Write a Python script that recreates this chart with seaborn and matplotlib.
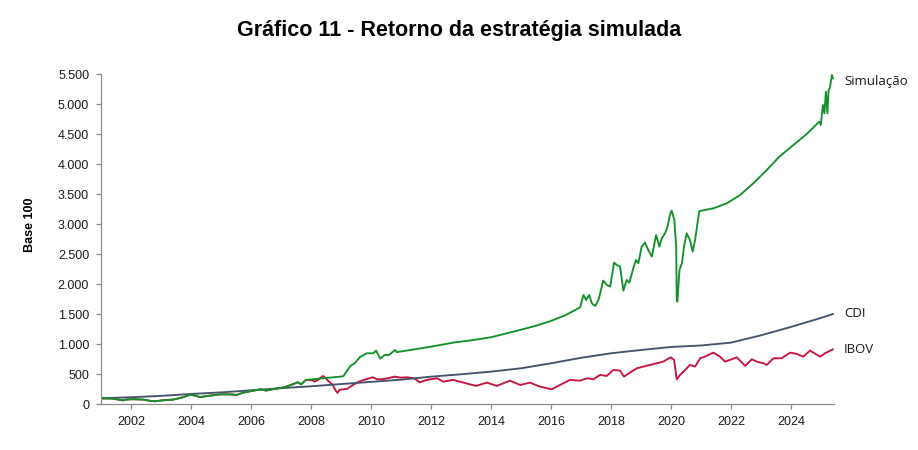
import matplotlib
matplotlib.use("Agg")
import matplotlib.pyplot as plt
import seaborn as sns
import pandas as pd
from matplotlib.ticker import FuncFormatter, FixedLocator

# ---------------- data ----------------
sim_dates = [2001.00, 2001.40, 2001.73, 2001.85, 2002.08, 2002.41, 2002.63, 2002.80,
             2003.08, 2003.41, 2003.69, 2003.97, 2004.13, 2004.30, 2004.63, 2004.97,
             2005.30, 2005.52, 2005.74, 2006.02, 2006.33, 2006.50, 2006.78, 2007.11,
             2007.33, 2007.56, 2007.67, 2007.83, 2008.06, 2009.00, 2009.08, 2009.15,
             2009.31, 2009.45, 2009.64, 2009.86, 2010.07, 2010.17, 2010.31, 2010.45,
             2010.60, 2010.80, 2010.86, 2011.00, 2012.00, 2012.74, 2013.40, 2014.00,
             2014.97, 2015.50, 2016.00, 2016.50, 2016.97,
             2017.08, 2017.17, 2017.27, 2017.36, 2017.47, 2017.58, 2017.74, 2017.86,
             2017.97, 2018.10, 2018.19, 2018.30, 2018.41, 2018.52, 2018.61, 2018.74,
             2018.83, 2018.91, 2019.02, 2019.13, 2019.24, 2019.36, 2019.50, 2019.61,
             2019.69, 2019.80, 2019.88, 2019.97, 2020.02, 2020.11, 2020.17, 2020.19,
             2020.21, 2020.28, 2020.36, 2020.43, 2020.52, 2020.63, 2020.72, 2020.80,
             2020.94, 2021.41, 2021.86, 2022.30, 2022.74, 2023.19, 2023.63, 2024.08,
             2024.52, 2024.94, 2024.99, 2025.06, 2025.11, 2025.16, 2025.21, 2025.25,
             2025.30, 2025.36, 2025.40]
sim_values = [100, 94, 65, 80, 85, 78, 58, 50,
              67, 78, 111, 158, 145, 120, 144, 165,
              165, 156, 194, 222, 250, 228, 256, 283,
              322, 367, 333, 406, 417, 462, 470, 520,
              640, 680, 790, 850, 850, 894, 760, 820,
              822, 905, 870, 880, 960, 1028, 1070, 1117,
              1239, 1310, 1390, 1490, 1616,
              1822, 1738, 1822, 1683, 1638, 1738, 2061, 1988,
              1961, 2361, 2322, 2294, 1894, 2072, 2027, 2266,
              2405, 2350, 2627, 2694, 2572, 2461, 2822, 2627,
              2766, 2850, 2961, 3172, 3227, 3072, 2627, 1738,
              1710, 2238, 2350, 2627, 2850, 2739, 2544, 2739,
              3220, 3266, 3350, 3488, 3683, 3905, 4138, 4322,
              4505, 4711, 4655, 4988, 4850, 5210, 4850, 5238,
              5293, 5488, 5430]

cdi_dates = [2001.0, 2002.0, 2003.0, 2004.0, 2005.0, 2006.0, 2007.0, 2008.0, 2009.0,
             2010.0, 2011.0, 2012.0, 2013.0, 2014.0, 2015.0, 2016.0, 2017.0, 2018.0,
             2019.0, 2020.0, 2021.0, 2022.0, 2023.0, 2024.0, 2025.0, 2025.40]
cdi_values = [100, 117, 140, 172, 198, 233, 268, 300, 337,
              373, 410, 460, 500, 544, 600, 683, 775, 850,
              905, 955, 980, 1028, 1150, 1290, 1440, 1506]

ibov_dates = [2001.00, 2001.40, 2001.73, 2001.85, 2002.08, 2002.41, 2002.63, 2002.80,
              2003.08, 2003.41, 2003.69, 2003.97, 2004.13, 2004.30, 2004.63, 2004.97,
              2005.30, 2005.52, 2005.74, 2006.02, 2006.33, 2006.50, 2006.78, 2007.11,
              2007.33, 2007.56, 2007.67, 2007.83, 2008.06, 2008.12, 2008.23, 2008.40,
              2008.50, 2008.56, 2008.72, 2008.83, 2008.88, 2008.95, 2009.08, 2009.20,
              2009.40, 2009.60, 2009.83, 2010.06, 2010.20, 2010.35, 2010.56, 2010.78,
              2011.00, 2011.20, 2011.44, 2011.62, 2011.85, 2012.20, 2012.41, 2012.74,
              2013.08, 2013.50, 2013.86, 2014.19, 2014.63, 2014.97, 2015.30, 2015.63,
              2016.02, 2016.30, 2016.63, 2016.97, 2017.20, 2017.41, 2017.63, 2017.85,
              2018.08, 2018.30, 2018.43, 2018.63, 2018.86, 2019.08, 2019.30, 2019.52,
              2019.74, 2019.99, 2020.10, 2020.19, 2020.30, 2020.47, 2020.63, 2020.80,
              2020.97, 2021.13, 2021.41, 2021.63, 2021.80, 2022.02, 2022.19, 2022.47,
              2022.69, 2022.86, 2023.08, 2023.19, 2023.41, 2023.69, 2023.97, 2024.19,
              2024.41, 2024.63, 2024.97, 2025.13, 2025.40]
ibov_values = [100, 94, 65, 80, 85, 78, 58, 50,
               67, 78, 111, 158, 145, 120, 144, 165,
               165, 156, 194, 222, 250, 228, 256, 283,
               322, 367, 333, 406, 400, 378, 406, 472,
               430, 394, 322, 222, 190, 240, 250, 256,
               322, 378, 417, 450, 417, 417, 433, 461,
               444, 450, 433, 365, 406, 433, 378, 406,
               361, 306, 361, 306, 394, 322, 361, 294,
               250, 322, 406, 394, 433, 417, 489, 472,
               572, 561, 461, 528, 600, 628, 656, 683,
               711, 783, 739, 417, 489, 572, 656, 628,
               767, 794, 861, 794, 711, 750, 783, 639,
               750, 711, 683, 656, 767, 767, 861, 839,
               794, 894, 794, 850, 917]

series_names = ["IBOV", "CDI", "Simulação"]
series_colors = ["#C8133F", "#44546A", "#12922A"]
x_ticks = [2002, 2004, 2006, 2008, 2010, 2012, 2014, 2016, 2018, 2020, 2022, 2024]
y_ticks = [0, 500, 1000, 1500, 2000, 2500, 3000, 3500, 4000, 4500, 5000, 5500]

# ---------------- build long-form table ----------------
df = pd.concat([
    pd.DataFrame({"date": ibov_dates, "value": ibov_values, "serie": "IBOV"}),
    pd.DataFrame({"date": cdi_dates, "value": cdi_values, "serie": "CDI"}),
    pd.DataFrame({"date": sim_dates, "value": sim_values, "serie": "Simulação"}),
], ignore_index=True)

sns.set_theme(style="white")
plt.rcParams["font.family"] = ["Liberation Sans", "DejaVu Sans"]

fig = plt.figure(figsize=(9.18, 4.5), dpi=100)
ax = fig.add_axes([0.110, 0.1016, 0.7985, 0.7333])

sns.lineplot(data=df, x="date", y="value", hue="serie", hue_order=series_names,
             palette=dict(zip(series_names, series_colors)), estimator=None,
             linewidth=1.35, legend=False, ax=ax)

ax.set_xlim(2001.0, 2025.43)
ax.set_ylim(0, 5500)
ax.xaxis.set_major_locator(FixedLocator(x_ticks))
ax.yaxis.set_major_locator(FixedLocator(y_ticks))
ax.yaxis.set_major_formatter(FuncFormatter(lambda v, p: f"{v:,.0f}".replace(",", ".")))
ax.xaxis.set_major_formatter(FuncFormatter(lambda v, p: f"{int(v)}"))
ax.set_xlabel("")
ax.set_ylabel("")

for s in ["top", "right"]:
    ax.spines[s].set_visible(False)
for s in ["left", "bottom"]:
    ax.spines[s].set_color("#8C8C8C")
    ax.spines[s].set_linewidth(0.9)
ax.tick_params(axis="both", which="major", length=3.5, width=0.9, color="#8C8C8C",
               labelsize=9, labelcolor="#1A1A1A", pad=5, bottom=True, left=True)

# end labels
ends = {"Simulação": (sim_dates[-1], sim_values[-1]),
        "CDI": (cdi_dates[-1], cdi_values[-1]),
        "IBOV": (ibov_dates[-1], ibov_values[-1])}
for name, (xd, yd) in ends.items():
    ax.annotate(name, xy=(xd, yd), xytext=(8, -2 if name == "Simulação" else 0),
                textcoords="offset points",
                ha="left", va="center", fontsize=9.5, color="#1A1A1A",
                family=["Open Sans", "DejaVu Sans"], annotation_clip=False)

fig.text(0.5, 0.932, "Gráfico 11 - Retorno da estratégia simulada", ha="center",
         va="center", fontsize=15.5, fontweight="bold", color="black")
fig.text(0.0327, 0.5, "Base 100", ha="center", va="center", rotation=90,
         fontsize=9, fontweight="bold", color="black")

fig.savefig("out.png", dpi=100)
